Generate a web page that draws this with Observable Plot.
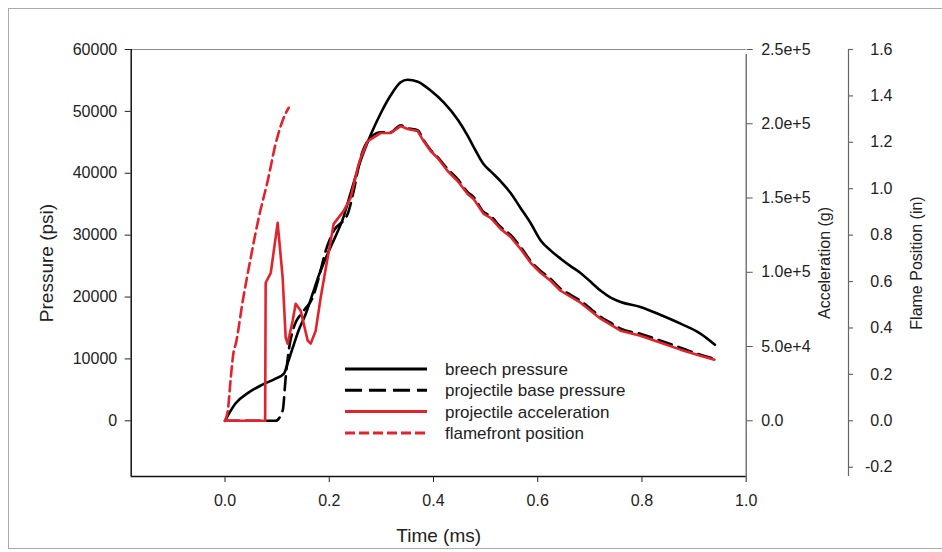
<!DOCTYPE html>
<html>
<head>
<meta charset="utf-8">
<script src="https://cdn.jsdelivr.net/npm/d3@7"></script>
<script src="https://cdn.jsdelivr.net/npm/@observablehq/plot@0.6"></script>
<style>
  html, body { margin: 0; padding: 0; background: #fff; }
  #wrap { position: relative; width: 942px; height: 552px; overflow: hidden; font-family: "Liberation Sans", Arial, sans-serif; }
  #border { position: absolute; left: 8px; top: 8px; width: 960px; height: 541px; border: 1.5px solid #aaa; box-sizing: border-box; }
  #chart, #legend { position: absolute; left: 0; top: 0; }
</style>
</head>
<body>
<div id="wrap"><div id="border"></div><div id="chart"></div><svg id="legend" width="942" height="552"></svg></div>
<script>
// ---- data ----
const timeTicks = [0, 0.2, 0.4, 0.6, 0.8, 1.0];
const pressureTicks = [0, 10000, 20000, 30000, 40000, 50000, 60000];
const accTicks = [0, 50000, 100000, 150000, 200000, 250000];
const accTickLabels = ["0.0", "5.0e+4", "1.0e+5", "1.5e+5", "2.0e+5", "2.5e+5"];
const flameTicks = [-0.2, 0, 0.2, 0.4, 0.6, 0.8, 1.0, 1.2, 1.4, 1.6];
const flameTickLabels = ["-0.2", "0.0", "0.2", "0.4", "0.6", "0.8", "1.0", "1.2", "1.4", "1.6"];
const seriesNames = ["breech pressure", "projectile base pressure", "projectile acceleration", "flamefront position"];

// breech pressure (psi)
const breechT = [0, 0.02, 0.045, 0.072, 0.097, 0.113, 0.12, 0.13, 0.141, 0.155, 0.168, 0.18, 0.197, 0.213, 0.226, 0.24, 0.26, 0.28, 0.3, 0.318, 0.337, 0.35, 0.37, 0.394, 0.42, 0.447, 0.466, 0.48, 0.496, 0.51, 0.529, 0.548, 0.567, 0.586, 0.606, 0.625, 0.644, 0.663, 0.682, 0.701, 0.721, 0.74, 0.759, 0.797, 0.836, 0.874, 0.912, 0.94];
const breechP = [0, 2790, 4560, 5850, 6820, 7620, 9240, 11820, 14560, 17300, 20500, 23500, 27000, 30000, 32600, 36500, 42000, 46300, 49900, 52600, 54700, 55100, 54800, 53400, 51400, 48600, 46000, 43800, 41500, 40300, 38700, 36800, 34400, 32000, 29100, 27500, 26200, 25000, 23900, 22500, 21000, 19900, 19200, 18400, 17100, 15700, 14100, 12300];

// projectile base pressure (psi)
const baseT = [0, 0.097, 0.1107, 0.1164, 0.1222, 0.1318, 0.151, 0.168, 0.1797, 0.1931, 0.2085, 0.2353, 0.2468, 0.26, 0.2737, 0.2986, 0.3178, 0.337, 0.3504, 0.3696, 0.381, 0.3945, 0.408, 0.4272, 0.4463, 0.4655, 0.477, 0.4962, 0.5096, 0.5288, 0.548, 0.567, 0.5864, 0.6055, 0.6247, 0.6439, 0.663, 0.6822, 0.7014, 0.7206, 0.7397, 0.759, 0.797, 0.836, 0.874, 0.912, 0.939];
const baseP = [0, 0, 1660, 6980, 11330, 15040, 17780, 19870, 23090, 27450, 30670, 33410, 37120, 42440, 45180, 46630, 46630, 47760, 47280, 46960, 45350, 43740, 42600, 40670, 39060, 36960, 36160, 33740, 33100, 31320, 30040, 28100, 25840, 24230, 22940, 21330, 20360, 19390, 18100, 16810, 15850, 14880, 14070, 12940, 11820, 10690, 10040];

// projectile acceleration (g)
const accT = [0, 0.0723, 0.077, 0.078, 0.0878, 0.101, 0.1106, 0.1164, 0.1202, 0.1298, 0.1356, 0.1452, 0.1586, 0.1644, 0.174, 0.1835, 0.1969, 0.2085, 0.2277, 0.241, 0.2545, 0.2602, 0.2737, 0.2986, 0.3178, 0.337, 0.3504, 0.3696, 0.381, 0.3945, 0.408, 0.4272, 0.4463, 0.4655, 0.477, 0.4962, 0.5096, 0.5288, 0.548, 0.567, 0.5864, 0.6055, 0.6247, 0.6439, 0.663, 0.6822, 0.7014, 0.7206, 0.7397, 0.759, 0.797, 0.836, 0.874, 0.912, 0.939];
const accG = [0, 0, 0, 92940, 99660, 133260, 96300, 55980, 51950, 67400, 78830, 74120, 53960, 51950, 60680, 82860, 109740, 132590, 141320, 150060, 170220, 176940, 188360, 193740, 193740, 198440, 196430, 195080, 188360, 181640, 176940, 168200, 161480, 152750, 149390, 139310, 136620, 129230, 123850, 115790, 106380, 99660, 94280, 87560, 83530, 79500, 74120, 68750, 64710, 60680, 57320, 52620, 47910, 43880, 41190];

// flamefront position (in)
const flameT = [0, 0.0052, 0.011, 0.0167, 0.0205, 0.034, 0.0493, 0.0646, 0.0819, 0.0972, 0.1126, 0.1222];
const flameIn = [0, 0.041, 0.184, 0.30, 0.33, 0.516, 0.702, 0.874, 1.034, 1.194, 1.306, 1.349];

// ---- tables ----
const breech = breechT.map((t, i) => ({t, v: breechP[i]}));
const base = baseT.map((t, i) => ({t, v: baseP[i]}));
const acc = accT.map((t, i) => ({t, v: accG[i]}));
const flame = flameT.map((t, i) => ({t, v: flameIn[i]}));

// ---- layout ----
const W = 942, H = 552;
const mL = 130.7, mR = 196.3, mT = 49, mB = 76;
const xDom = [-0.18, 1.0];
const yDom = [-9000, 60000];
const ACC = 60000 / 250000;   // acceleration axis -> pressure units
const FL = 60000 / 1.6;       // flame axis -> pressure units
const pxPerX = (W - mL - mR) / (xDom[1] - xDom[0]);
const xFlame = xDom[1] + 102.3 / pxPerX;
const RED = "#e3232b";
const font = "'Liberation Sans', Arial, sans-serif";

const chart = Plot.plot({
  width: W, height: H,
  marginLeft: mL, marginRight: mR, marginTop: mT, marginBottom: mB,
  style: {fontFamily: font, fontSize: "16px", color: "#222", background: "transparent", overflow: "visible"},
  x: {domain: xDom},
  y: {domain: yDom},
  marks: [
    Plot.ruleY([yDom[1]], {stroke: "#888", strokeWidth: 1.2}),
    Plot.ruleX([xDom[1]], {stroke: "#555", strokeWidth: 1.2, y1: yDom[0], y2: yDom[1], insetBottom: -5}),
    Plot.ruleX([xDom[0]], {stroke: "#111", strokeWidth: 1.5}),
    Plot.ruleY([yDom[0]], {stroke: "#111", strokeWidth: 1.5}),
    Plot.axisY({anchor: "left", ticks: pressureTicks, tickFormat: d => String(d), tickSize: 6, tickPadding: 8, label: null, fontSize: 16}),
    Plot.axisX({anchor: "bottom", ticks: timeTicks, tickFormat: d => d.toFixed(1), tickSize: 6, tickPadding: 12, label: null, fontSize: 16}),
    Plot.axisY({anchor: "right", ticks: accTicks.map(a => a * ACC),
      tickFormat: d => accTickLabels[accTicks.findIndex(a => Math.abs(a * ACC - d) < 1)],
      tickSize: 6, tickPadding: 9, label: null, fontSize: 16, stroke: "#555"}),
    // flame position axis
    Plot.ruleX([xFlame], {stroke: "#666", strokeWidth: 1.2}),
    Plot.ruleY(flameTicks, {y: d => d * FL, x1: xFlame, x2: xFlame + 5 / pxPerX, stroke: "#666", strokeWidth: 1.2}),
    Plot.text(flameTicks, {y: d => d * FL, x: xFlame, dx: 44, text: (d, i) => flameTickLabels[i], textAnchor: "end", fontSize: 16, fill: "#222"}),
    // axis titles
    Plot.text(["Pressure (psi)"], {frameAnchor: "left", dx: -84, rotate: -90, textAnchor: "middle", lineAnchor: "middle", fontSize: 19, fill: "#222"}),
    Plot.text(["Time (ms)"], {frameAnchor: "bottom", dy: 59, textAnchor: "middle", lineAnchor: "middle", fontSize: 19, fill: "#222"}),
    Plot.text(["Acceleration (g)"], {frameAnchor: "right", dx: 79, rotate: -90, textAnchor: "middle", lineAnchor: "middle", fontSize: 16, fill: "#222"}),
    Plot.text(["Flame Position (in)"], {frameAnchor: "right", dx: 171, rotate: -90, textAnchor: "middle", lineAnchor: "middle", fontSize: 16, fill: "#222"}),
    // series
    Plot.line(breech, {x: "t", y: "v", stroke: "#000", strokeWidth: 2.6, curve: "monotone-x"}),
    Plot.line(base, {x: "t", y: "v", stroke: "#000", strokeWidth: 2.6, strokeDasharray: "14,7", curve: "monotone-x"}),
    Plot.line(acc, {x: "t", y: d => d.v * ACC, stroke: RED, strokeWidth: 2.6}),
    Plot.line(flame, {x: "t", y: d => d.v * FL, stroke: RED, strokeWidth: 2.6, strokeDasharray: "10,5", curve: "monotone-x"})
  ]
});
document.getElementById("chart").appendChild(chart);

// ---- legend ----
const legendStyles = [
  {stroke: "#000", dash: null},
  {stroke: "#000", dash: "17,7"},
  {stroke: RED, dash: null},
  {stroke: RED, dash: "10,4"}
];
const lg = d3.select("#legend");
seriesNames.forEach((name, i) => {
  const y = 369 + i * 21.3;
  const s = legendStyles[i];
  lg.append("line").attr("x1", 345).attr("x2", 427).attr("y1", y).attr("y2", y)
    .attr("stroke", s.stroke).attr("stroke-width", 3).attr("stroke-dasharray", s.dash);
  lg.append("text").attr("x", 445).attr("y", y).attr("dy", "0.35em")
    .attr("font-family", font).attr("font-size", 17).attr("fill", "#222").text(name);
});
</script>
</body>
</html>
